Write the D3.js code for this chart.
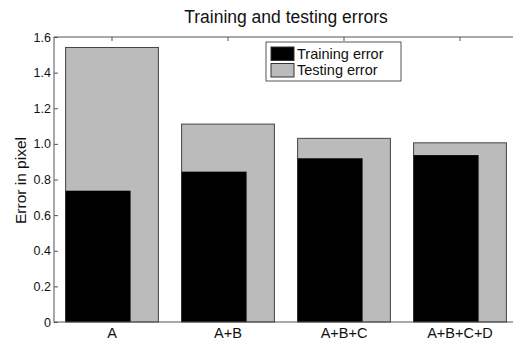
<!DOCTYPE html>
<html>
<head>
<meta charset="utf-8">
<script src="https://cdn.jsdelivr.net/npm/d3@7"></script>
<style>
  body { margin: 0; background: #fff; }
  text { font-family: "Liberation Sans", Arial, sans-serif; fill: #111; }
</style>
</head>
<body>
<div id="chart"></div>
<script>
// data
const categories = ["A", "A+B", "A+B+C", "A+B+C+D"];
const trainingError = [0.737, 0.844, 0.919, 0.937];
const testingError = [1.541, 1.111, 1.031, 1.006];
const yTicks = [0, 0.2, 0.4, 0.6, 0.8, 1.0, 1.2, 1.4, 1.6];
const yTickLabels = ["0", "0.2", "0.4", "0.6", "0.8", "1.0", "1.2", "1.4", "1.6"];

const width = 513, height = 340;
const margin = { top: 37, left: 54, bottom: 18 };
const plotRight = 518; // axes box runs past the right side of the picture

const svg = d3.select("#chart").append("svg")
    .attr("width", width)
    .attr("height", height);

const x = d3.scaleLinear().domain([0.5, categories.length + 0.5]).range([margin.left, plotRight]);
const y = d3.scaleLinear().domain([0, 1.6]).range([height - margin.bottom, margin.top]);

const testWidth = 0.8, trainWidth = 0.56;

// testing error bars (wide, grey)
svg.append("g").selectAll("rect")
    .data(testingError)
    .join("rect")
    .attr("x", (d, i) => x(i + 1 - testWidth / 2))
    .attr("y", d => y(d))
    .attr("width", x(testWidth) - x(0))
    .attr("height", d => y(0) - y(d))
    .attr("fill", "#bbbbbb")
    .attr("stroke", "#444")
    .attr("stroke-width", 1);

// training error bars (narrow, black), same left edge
svg.append("g").selectAll("rect")
    .data(trainingError)
    .join("rect")
    .attr("x", (d, i) => x(i + 1 - testWidth / 2))
    .attr("y", d => y(d))
    .attr("width", x(trainWidth) - x(0))
    .attr("height", d => y(0) - y(d))
    .attr("fill", "#000");

// axes box
svg.append("rect")
    .attr("x", margin.left)
    .attr("y", margin.top)
    .attr("width", plotRight - margin.left)
    .attr("height", y(0) - margin.top)
    .attr("fill", "none")
    .attr("stroke", "#555")
    .attr("stroke-width", 1);

// y axis, ticks pointing inward
const yAxis = d3.axisLeft(y)
    .tickValues(yTicks)
    .tickFormat((d, i) => yTickLabels[i])
    .tickSizeInner(-4)
    .tickSizeOuter(0)
    .tickPadding(3);

svg.append("g")
    .attr("transform", `translate(${margin.left},0)`)
    .call(yAxis)
    .call(g => g.select(".domain").remove())
    .call(g => g.selectAll("line").attr("stroke", "#555"))
    .call(g => g.selectAll("text")
        .attr("font-size", "12.5px")
        .attr("font-family", "Liberation Sans, Arial, sans-serif")
        .attr("fill", "#222"));

// top ticks at category positions
svg.append("g").selectAll("line")
    .data(categories)
    .join("line")
    .attr("x1", (d, i) => x(i + 1))
    .attr("x2", (d, i) => x(i + 1))
    .attr("y1", margin.top)
    .attr("y2", margin.top + 4)
    .attr("stroke", "#555");

// category labels
svg.append("g").selectAll("text")
    .data(categories)
    .join("text")
    .attr("x", (d, i) => x(i + 1))
    .attr("y", 338)
    .attr("text-anchor", "middle")
    .attr("font-size", "14.5px")
    .attr("fill", "#222")
    .text(d => d);

// title
svg.append("text")
    .attr("x", (margin.left + plotRight) / 2)
    .attr("y", 23)
    .attr("text-anchor", "middle")
    .attr("font-size", "17.5px")
    .text("Training and testing errors");

// y label
svg.append("text")
    .attr("transform", `translate(26,${(margin.top + y(0)) / 2 + 1}) rotate(-90)`)
    .attr("text-anchor", "middle")
    .attr("font-size", "15.5px")
    .text("Error in pixel");

// legend
const legend = svg.append("g").attr("transform", "translate(266,42)");
legend.append("rect")
    .attr("width", 135)
    .attr("height", 39)
    .attr("fill", "#fff")
    .attr("stroke", "#555");

const legendItems = [
    { label: "Training error", color: "#000" },
    { label: "Testing error", color: "#bbbbbb" }
];
legendItems.forEach((item, i) => {
    legend.append("rect")
        .attr("x", 5)
        .attr("y", 5 + i * 16.5)
        .attr("width", 23)
        .attr("height", 13.5)
        .attr("fill", item.color)
        .attr("stroke", "#333");
    legend.append("text")
        .attr("x", 31)
        .attr("y", 16.5 + i * 16.5)
        .attr("font-size", "14.5px")
        .attr("fill", "#222")
        .text(item.label);
});
</script>
</body>
</html>
